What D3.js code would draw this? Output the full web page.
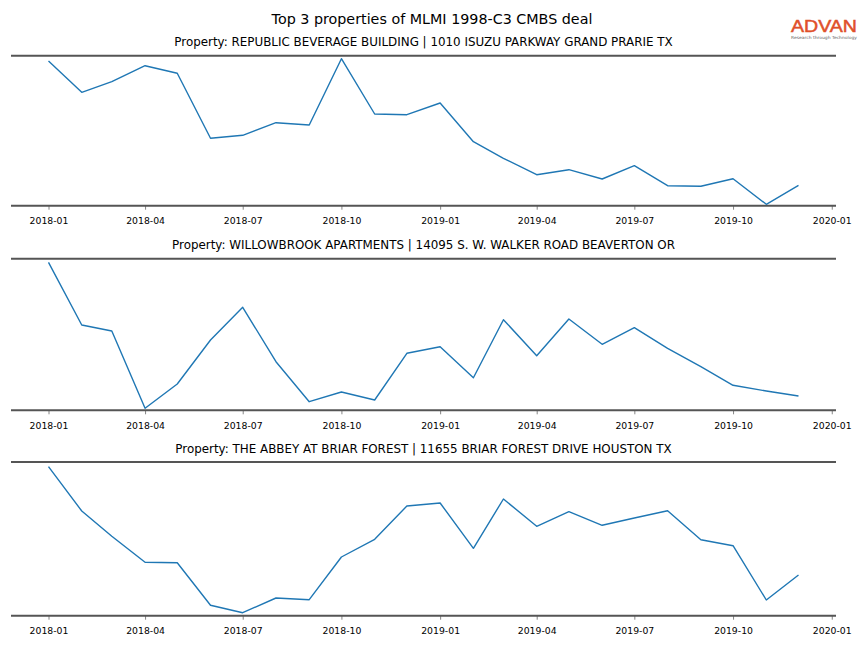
<!DOCTYPE html>
<html>
<head>
<meta charset="utf-8">
<script src="https://cdn.jsdelivr.net/npm/d3@7"></script>
<style>
  html, body { margin: 0; padding: 0; background: #fff; }
  svg { display: block; font-family: "DejaVu Sans", sans-serif; }
</style>
</head>
<body>
<svg id="chart" width="864" height="648"></svg>
<script>
// ---- data ----
const mainTitle = "Top 3 properties of MLMI 1998-C3 CMBS deal";
const propertyTitles = [
  "Property: REPUBLIC BEVERAGE BUILDING | 1010 ISUZU PARKWAY GRAND PRARIE TX",
  "Property: WILLOWBROOK APARTMENTS | 14095 S. W. WALKER ROAD BEAVERTON OR",
  "Property: THE ABBEY AT BRIAR FOREST | 11655 BRIAR FOREST DRIVE HOUSTON TX"
];
const months = ["2018-01","2018-02","2018-03","2018-04","2018-05","2018-06","2018-07","2018-08",
  "2018-09","2018-10","2018-11","2018-12","2019-01","2019-02","2019-03","2019-04","2019-05",
  "2019-06","2019-07","2019-08","2019-09","2019-10","2019-11","2019-12"];
const tickLabels = ["2018-01","2018-04","2018-07","2018-10","2019-01","2019-04","2019-07","2019-10","2020-01"];
const republicBeverage = [144.7,113.4,124,140,132.4,67.4,70.4,83,80.7,147,91.7,91,
  102.7,64,47.4,31,36,26.7,40,20,19.4,27,1.4,20.4];
const willowbrook = [148,85.3,79.3,2,26.3,70.3,103,48.6,8.6,18.3,10.3,57,
  63.6,32.6,90.6,54.6,91.3,66,82.6,62,43.6,25,19.3,14.3];
const abbeyBriarForest = [149,104.7,79.4,53.4,53,10.4,3,17.7,16,58.7,76.4,109.7,
  112.7,67.4,116.7,89.4,104,90.4,97.7,105,76,70,15.7,40.7];
const seriesList = [republicBeverage, willowbrook, abbeyBriarForest];
const yMax = [150, 151.6, 153.7];

// ---- layout ----
const svg = d3.select("#chart");
const parse = d3.timeParse("%Y-%m");
const xLeft = 11, xRight = 836;
const panelTop = [55.7, 258.7, 462];
const panelBottom = [205.7, 410.3, 615.7];
const lineColor = "#1f77b4";
const spineColor = "#555555";

// x domain with 5% margin like matplotlib
const d0 = parse(months[0]), d1 = parse(months[months.length - 1]);
const span = d1 - d0;
const x = d3.scaleTime()
  .domain([new Date(+d0 - span * 0.05), new Date(+d1 + span * 0.05)])
  .range([xLeft, xRight]);

svg.append("text")
  .attr("x", 432).attr("y", 24)
  .attr("text-anchor", "middle")
  .attr("font-size", 14.3)
  .attr("fill", "#000")
  .text(mainTitle);

// logo
const logo = svg.append("g").attr("transform", "translate(824,32)");
logo.append("text")
  .attr("x", -33)
  .attr("font-size", 17)
  .attr("font-family", "Liberation Sans, sans-serif")
  .attr("textLength", 66)
  .attr("lengthAdjust", "spacingAndGlyphs")
  .attr("fill", "#e0502a")
  .attr("stroke", "#e0502a")
  .attr("stroke-width", 0.5)
  .text("ADVAN");
logo.append("text")
  .attr("x", -33)
  .attr("y", 6.5)
  .attr("font-size", 4.2)
  .attr("textLength", 66)
  .attr("lengthAdjust", "spacingAndGlyphs")
  .attr("fill", "#666")
  .text("Research through Technology");

seriesList.forEach((vals, i) => {
  const top = panelTop[i], bottom = panelBottom[i];
  const y = d3.scaleLinear().domain([0, yMax[i]]).range([bottom, top]);
  const g = svg.append("g");

  g.append("text")
    .attr("x", (xLeft + xRight) / 2)
    .attr("y", top - 9.5)
    .attr("text-anchor", "middle")
    .attr("font-size", 11.9)
    .attr("fill", "#000")
    .text(propertyTitles[i]);

  // spines
  g.append("line").attr("x1", xLeft).attr("x2", xRight)
    .attr("y1", top).attr("y2", top)
    .attr("stroke", spineColor).attr("stroke-width", 2);

  const axis = d3.axisBottom(x)
    .tickValues(tickLabels.map(parse))
    .tickFormat(d3.timeFormat("%Y-%m"))
    .tickSize(4).tickPadding(8);
  const ag = g.append("g").attr("transform", `translate(0,${bottom})`).call(axis);
  ag.select(".domain").remove();
  ag.selectAll(".tick line").attr("stroke", "#666").attr("stroke-width", 0.8);
  ag.selectAll(".tick text").attr("font-size", 9.3).attr("fill", "#000")
    .attr("font-family", "DejaVu Sans, sans-serif");

  g.append("line").attr("x1", xLeft).attr("x2", xRight)
    .attr("y1", bottom).attr("y2", bottom)
    .attr("stroke", spineColor).attr("stroke-width", 2);

  const line = d3.line()
    .x((d, j) => x(parse(months[j])))
    .y(d => y(d));
  g.append("path")
    .datum(vals)
    .attr("fill", "none")
    .attr("stroke", lineColor)
    .attr("stroke-width", 1.4)
    .attr("stroke-linejoin", "round")
    .attr("d", line);
});
</script>
</body>
</html>
